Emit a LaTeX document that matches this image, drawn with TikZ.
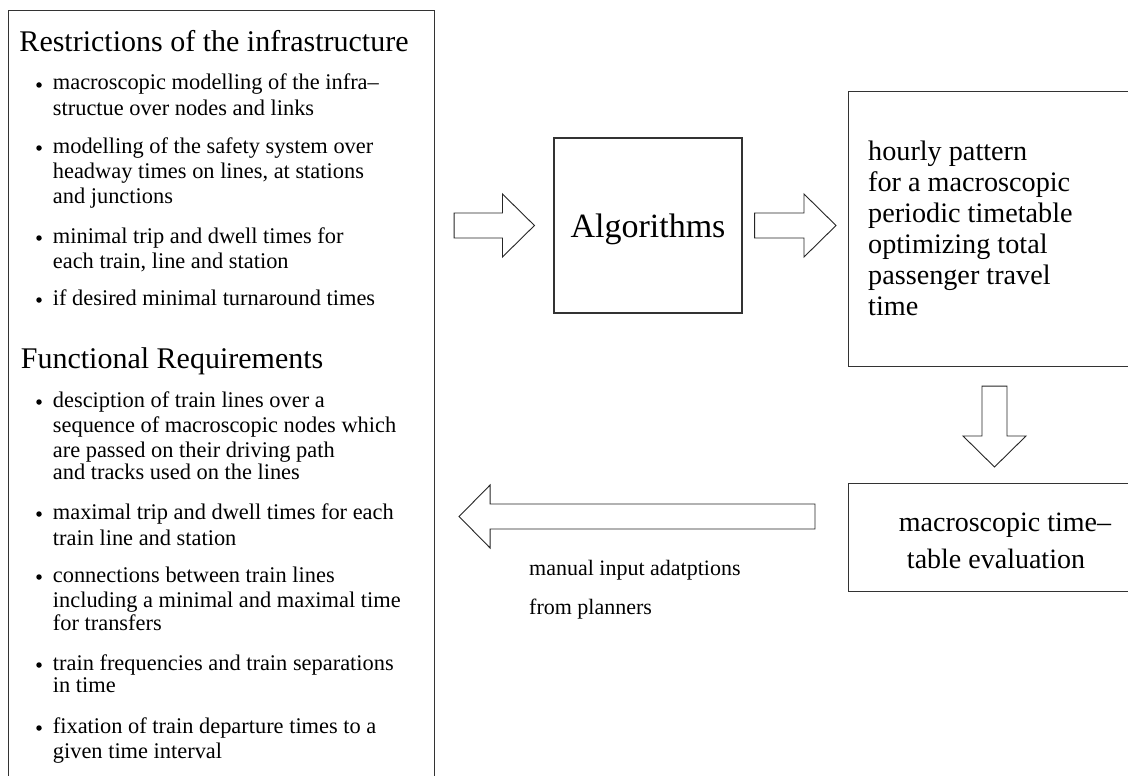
\documentclass[tikz,border=0pt]{standalone}
\usepackage{fontspec}
\setmainfont{Liberation Serif}
\usetikzlibrary{calc}
\begin{document}
\begin{tikzpicture}[x=1pt,y=-1pt,
  box/.style={draw=black!80, line width=1.1pt, rectangle, inner sep=0pt},
  fat/.style={draw=black!85, line width=0.9pt, line join=miter, fill=white},
  item/.style={anchor=base west, inner sep=0pt, align=left, font=\fontsize{22.4}{25}\selectfont},
  head/.style={anchor=base west, inner sep=0pt, font=\fontsize{30}{34}\selectfont},
  dot/.style={circle, fill=black, inner sep=0pt, minimum size=5.5pt},
  lab/.style={anchor=base west, inner sep=0pt, font=\fontsize{22}{26}\selectfont},
]
\useasboundingbox (0,0) rectangle (1128,776);
\fill[white] (0,0) rectangle (1128,776);
\clip (0,0) rectangle (1128,776);

% ---------- left box ----------
\node[box, anchor=north west, minimum width=426pt, minimum height=800pt] (L) at (8,10) {};

% (multi-line nodes are placed by the baseline of their last line)
\node[head] (h1) at (19.3,52) {Restrictions of the infrastructure};
\node[dot] (d1) at (39,85) {};
\node[item] (i1) at (52.7,115) {macroscopic modelling of the infra–\\structue over nodes and links};
\node[dot] (d2) at (39,148) {};
\node[item] (i2) at (52.7,203) {modelling of the safety system over\\headway times on lines, at stations\\and junctions};
\node[dot] (d3) at (39,238) {};
\node[item] (i3) at (52.7,268) {minimal trip and dwell times for\\each train, line and station};
\node[dot] (d4) at (39,300) {};
\node[item] (i4) at (52.7,305) {if desired minimal turnaround times};

\node[head] (h2) at (20.7,368) {Functional Requirements};
\node[dot] (d5) at (39,402) {};
\node[item] (i5) at (52.7,479) {desciption of train lines over a\\sequence of macroscopic nodes which\\are passed on their driving path\\[-3pt]and tracks used on the lines};
\node[dot] (d6) at (39,514) {};
\node[item] (i6) at (52.7,545) {maximal trip and dwell times for each\\[1pt]train line and station};
\node[dot] (d7) at (39,577) {};
\node[item] (i7) at (52.7,630) {connections between train lines\\including a minimal and maximal time\\[-2pt]for transfers};
\node[dot] (d8) at (39,665) {};
\node[item] (i8) at (52.7,692) {train frequencies and train separations\\[-3pt]in time};
\node[dot] (d9) at (39,728) {};
\node[item] (i9) at (52.7,758) {fixation of train departure times to a\\given time interval};

% ---------- algorithm box ----------
\node[box, minimum width=188pt, minimum height=175pt] (A) at (648,225.5) {};
\node[anchor=base, inner sep=0pt, font=\fontsize{34}{40}\selectfont] (at) at (648,237) {Algorithms};

% ---------- result box ----------
\node[box, anchor=north west, minimum width=320pt, minimum height=275pt] (P) at (848,91) {};
\node[anchor=base west, inner sep=0pt, align=left, font=\fontsize{28.2}{31}\selectfont] (pt) at (868,315)
  {hourly pattern\\for a macroscopic\\periodic timetable\\optimizing total\\passenger travel\\time};

% ---------- evaluation box ----------
\node[box, anchor=north west, minimum width=304pt, minimum height=108pt] (E) at (848,483) {};
\node[align=center, inner sep=0pt, font=\fontsize{28}{37}\selectfont] (et) at (996,541)
  {\hspace*{18pt}macroscopic time–\\table evaluation};

% ---------- labels ----------
\node[lab] (m1) at (529,575) {manual input adatptions};
\node[lab] (m2) at (529,614) {from planners};

% ---------- block arrows ----------
\coordinate (r1s) at ($(L.east |- A.center)+(19,0)$);
\coordinate (r1t) at ($(A.west)+(-19,0)$);
\draw[fat] ($(r1s)+(0,-12.5)$) -- ($(r1t)+(-32,-12.5)$) -- ($(r1t)+(-32,-31.5)$) -- (r1t)
  -- ($(r1t)+(-32,31.5)$) -- ($(r1t)+(-32,12.5)$) -- ($(r1s)+(0,12.5)$) -- cycle;

\coordinate (r2s) at ($(A.east)+(12,0)$);
\coordinate (r2t) at ($(A.east -| P.west)+(-12,0)$);
\draw[fat] ($(r2s)+(0,-12.5)$) -- ($(r2t)+(-32,-12.5)$) -- ($(r2t)+(-32,-31.5)$) -- (r2t)
  -- ($(r2t)+(-32,31.5)$) -- ($(r2t)+(-32,12.5)$) -- ($(r2s)+(0,12.5)$) -- cycle;

\coordinate (ds) at ($(P.south west)+(146.5,19)$);
\coordinate (dt) at ($(E.north west)+(146.5,-16)$);
\draw[fat] ($(ds)+(-12.5,0)$) -- ($(dt)+(-12.5,-31)$) -- ($(dt)+(-31.5,-31)$) -- (dt)
  -- ($(dt)+(31.5,-31)$) -- ($(dt)+(12.5,-31)$) -- ($(ds)+(12.5,0)$) -- cycle;

\coordinate (ls) at ($(E.north west)+(-33,33.5)$);
\coordinate (lt) at ($(L.east |- ls)+(24,0)$);
\draw[fat] ($(ls)+(0,-12.5)$) -- ($(lt)+(31,-12.5)$) -- ($(lt)+(31,-31.5)$) -- (lt)
  -- ($(lt)+(31,31.5)$) -- ($(lt)+(31,12.5)$) -- ($(ls)+(0,12.5)$) -- cycle;
\end{tikzpicture}
\end{document}
